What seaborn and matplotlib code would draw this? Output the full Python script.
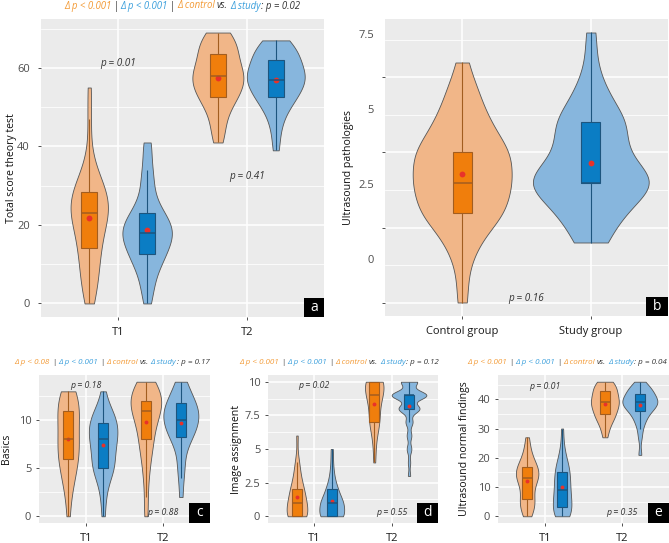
import numpy as np
import pandas as pd
import matplotlib
matplotlib.use("Agg")
import matplotlib.pyplot as plt
import matplotlib.transforms as mtransforms
from matplotlib.patches import Rectangle
import seaborn as sns

plt.rcParams['font.family'] = ['Open Sans', 'DejaVu Sans']

# ---------------- data ----------------
times = ['T1', 'T2']
groups = ['Control', 'Study']
b_groups = ['Control group', 'Study group']

# (a) total score theory test
theory_ctrl_t1 = [0, 2, 4, 6, 7, 9, 10, 12, 14, 14, 15, 17, 18, 19, 20, 21, 22, 23, 23, 24,
                  24, 25, 25, 26, 27, 28, 29, 29, 30, 31, 32, 34, 38, 47, 55]
theory_study_t1 = [0, 3, 5, 7, 9, 10, 11, 12, 12, 13, 14, 15, 15, 16, 17, 17, 18, 18, 18, 19,
                   19, 20, 21, 21, 22, 23, 23, 24, 26, 28, 30, 33, 34, 39, 41]
theory_ctrl_t2 = [41, 43, 45, 47, 49, 50, 52, 52, 52, 53, 54, 55, 55, 56, 56, 57, 57, 58, 58, 59,
                  59, 60, 60, 61, 62, 63, 64, 64, 65, 66, 66, 67, 68, 69, 69]
theory_study_t2 = [39, 43, 46, 48, 49, 51, 52, 52, 52, 53, 54, 55, 55, 56, 56, 57, 57, 57, 58, 58,
                   59, 59, 60, 60, 61, 62, 62, 63, 63, 64, 65, 65, 66, 67, 67]

# (b) ultrasound pathologies: counts per score 0..9
patho_levels = [0, 1, 2, 3, 4, 5, 6, 7, 8, 9]
patho_ctrl_counts = [1, 1, 3, 8, 9, 9, 5, 3, 1, 0]
patho_study_counts = [0, 0, 3, 6, 13, 6, 7, 3, 1, 1]

# (c) basics: counts per score 0..14
basics_levels = list(range(15))
basics_ctrl_t1 = [1, 0, 1, 1, 2, 2, 3, 3, 3, 2, 3, 3, 3, 3, 0]
basics_study_t1 = [1, 0, 1, 1, 1, 5, 2, 3, 4, 4, 4, 3, 0, 1, 0]
basics_ctrl_t2 = [1, 0, 1, 0, 1, 1, 1, 2, 2, 2, 3, 4, 5, 4, 3]
basics_study_t2 = [0, 0, 1, 0, 1, 1, 1, 1, 3, 4, 5, 5, 4, 2, 2]

# (d) image assignment: counts per score 0..10
image_levels = list(range(11))
image_ctrl_t1 = [10, 8, 6, 3, 2, 0, 1, 0, 0, 0, 0]
image_study_t1 = [11, 10, 5, 2, 1, 1, 0, 0, 0, 0, 0]
image_ctrl_t2 = [0, 0, 0, 0, 1, 1, 2, 5, 4, 7, 10]
image_study_t2 = [0, 0, 0, 1, 1, 2, 2, 3, 9, 15, 7]

# (e) ultrasound normal findings
normal_ctrl_t1 = [0, 1, 2, 3, 4, 5, 5, 6, 6, 8, 10, 11, 12, 13, 13, 13, 14, 14, 15, 15,
                  16, 16, 17, 17, 18, 19, 20, 22, 24, 27]
normal_study_t1 = [0, 0, 0, 1, 1, 2, 2, 3, 4, 5, 5, 6, 7, 8, 9, 9, 10, 11, 12, 13,
                   14, 15, 15, 16, 17, 18, 19, 21, 24, 30]
normal_ctrl_t2 = [27, 29, 31, 32, 33, 34, 34, 35, 35, 36, 37, 37, 38, 38, 39, 39, 39, 40, 40, 41,
                  41, 42, 43, 43, 44, 44, 45, 45, 46, 46]
normal_study_t2 = [21, 27, 30, 32, 33, 34, 35, 36, 36, 37, 37, 38, 38, 38, 39, 39, 39, 40, 40, 40,
                   41, 41, 42, 42, 43, 43, 44, 44, 45, 46]

# title p-values: (control change, study change, control vs study)
title_a = ('Δ p < 0.001', 'Δ p < 0.001', 'p = 0.02')
title_c = ('Δ p < 0.08', 'Δ p < 0.001', 'p = 0.17')
title_d = ('Δ p < 0.001', 'Δ p < 0.001', 'p = 0.12')
title_e = ('Δ p < 0.001', 'Δ p < 0.001', 'p = 0.04')

# in-panel p-values: (x category index, y value, text)
pvals_a = [(0, 61, 'p = 0.01'), (1, 32.3, 'p = 0.41')]
pvals_b = [(0.5, 0.15, 'p = 0.16')]
pvals_c = [(0, 13.6, 'p = 0.18'), (1, 0.4, 'p = 0.88')]
pvals_d = [(0, 9.7, 'p = 0.02'), (1, 0.3, 'p = 0.55')]
pvals_e = [(0, 44.4, 'p = 0.01'), (1, 1.4, 'p = 0.35')]

# ---------------- colours ----------------
BG = '#EBEBEB'
VIOLIN = ['#F1B688', '#87B6DD']
BOX = ['#F07E0C', '#0B7DC4']
EDGE = ['#A25D20', '#1D557E']
RED = '#E8322A'
ORANGE_TXT = '#F39A35'
BLUE_TXT = '#3A9FDC'
DARK = '#333333'

W, H = 669, 543
fig = plt.figure(figsize=(W / 100, H / 100), dpi=100)


def add_ax(l, t, r, b):
    return fig.add_axes([l / W, 1 - b / H, (r - l) / W, (b - t) / H])


def long_df(items, xcol):
    rows = []
    for x, g, vals in items:
        rows += [(x, g, float(v)) for v in vals]
    return pd.DataFrame(rows, columns=[xcol, 'group', 'value'])


def nrd0(kde):
    # R's bw.nrd0 (ggplot2 default), expressed as a factor of the sd
    x = kde.dataset[0]
    sd = np.std(x, ddof=1)
    q1, q3 = np.percentile(x, [25, 75])
    lo = min(sd, (q3 - q1) / 1.34)
    if lo == 0:
        lo = sd if sd > 0 else 1.0
    return 0.9 * lo * len(x) ** -0.2 / sd


def draw_violins(ax, df, xcol, order, hue_order, dodge, box_w, gap, msize):
    sns.violinplot(data=df, x=xcol, y='value', hue='group', order=order, hue_order=hue_order,
                   palette=VIOLIN, saturation=1, cut=0, inner=None, width=0.9, dodge=dodge,
                   density_norm='area', common_norm=True, bw_method=nrd0,
                   linewidth=0.6, linecolor='#555555', legend=False, ax=ax)
    n_lines, n_patches = len(ax.lines), len(ax.patches)
    sns.boxplot(data=df, x=xcol, y='value', hue='group', order=order, hue_order=hue_order,
                palette=BOX, saturation=1, width=box_w, gap=gap, dodge=dodge, showfliers=False,
                linewidth=0.8, legend=False, ax=ax, capprops={'visible': False})

    def hue_idx(xc):
        if dodge:
            return 0 if xc - round(xc) < 0 else 1
        return int(round(xc))

    for p in ax.patches[n_patches:]:
        xc = p.get_path().vertices[:, 0].mean()
        p.set_edgecolor(EDGE[hue_idx(xc)])
    for ln in ax.lines[n_lines:]:
        xs = np.asarray(ln.get_xdata(), float)
        ys = np.asarray(ln.get_ydata(), float)
        ln.set_color(EDGE[hue_idx(xs.mean())])
        if len(ys) == 2 and ys[0] == ys[1]:
            ln.set_linewidth(1.1)
    sns.pointplot(data=df, x=xcol, y='value', hue='group', order=order, hue_order=hue_order,
                  palette=[RED, RED], estimator='mean', errorbar=None,
                  dodge=0.45 if dodge else False, linestyle='none', marker='o',
                  markersize=msize, markeredgewidth=0, legend=False, ax=ax)


def style_axis(ax, ylim, major, labels, minor, ylabel, label_x, pad):
    ax.set_facecolor(BG)
    for s in ax.spines.values():
        s.set_visible(False)
    ax.set_xlim(-0.6, 1.6)
    ax.set_ylim(*ylim)
    ax.set_yticks(major)
    ax.set_yticklabels(labels)
    ax.set_yticks(minor, minor=True)
    ax.grid(which='major', color='white', linewidth=1.1)
    ax.grid(which='minor', axis='y', color='white', linewidth=0.55)
    ax.set_axisbelow(True)
    ax.tick_params(which='major', length=2.5, width=0.6, color=DARK, labelcolor='#4D4D4D',
                   labelsize=8)
    ax.tick_params(axis='y', which='major', pad=pad)
    ax.tick_params(axis='x', which='major', pad=4.5, labelcolor='#1A1A1A', labelsize=8)
    ax.tick_params(which='minor', length=0)
    ax.set_xlabel('')
    ax.set_ylabel(ylabel, fontsize=7.6, color='#111111', va='center')
    ax.yaxis.set_label_coords(label_x, 0.5)


def panel_tag(ax, letter, wpx, hpx):
    bb = ax.get_position()
    fw = wpx / (bb.width * W)
    fh = hpx / (bb.height * H)
    ax.add_patch(Rectangle((1 - fw, 0), fw, fh, transform=ax.transAxes, facecolor='black',
                           edgecolor='none', zorder=10, clip_on=False))
    ax.text(1 - fw / 2, fh / 2, letter, transform=ax.transAxes, color='white', ha='center',
            va='center', fontsize=10, zorder=11)


def p_notes(ax, notes, size):
    for x, y, s in notes:
        ax.text(x, y, s, style='italic', ha='center', va='center', fontsize=size, color=DARK)


def delta_title(ttl, center_px, y_px, size, right_px=None):
    ctrl_p, study_p, diff_p = ttl
    parts = [(ctrl_p, ORANGE_TXT, 'italic', 0), ('|', DARK, 'normal', 2),
             (study_p, BLUE_TXT, 'italic', 2), ('|', DARK, 'normal', 2),
             ('Δ control', ORANGE_TXT, 'italic', 2), ('vs.', DARK, 'italic', 2),
             ('Δ study', BLUE_TXT, 'italic', 2), (': ' + diff_p, DARK, 'italic', 0.5)]
    renderer = fig.canvas.get_renderer()
    texts, widths = [], []
    for s, c, st, g in parts:
        t = fig.text(0, 1 - y_px / H, s, color=c, style=st, fontsize=size, ha='left', va='center')
        texts.append(t)
        widths.append(t.get_window_extent(renderer).width)
    total = sum(widths) + sum(p[3] for p in parts)
    x = center_px - total / 2
    if right_px is not None:
        x = min(x, right_px - total)
    for t, w, p in zip(texts, widths, parts):
        x += p[3]
        t.set_x(x / W)
        x += w


# ---------------- panel a ----------------
ax_a = add_ax(41, 19, 324, 317)
df_a = long_df([('T1', 'Control', theory_ctrl_t1), ('T1', 'Study', theory_study_t1),
                ('T2', 'Control', theory_ctrl_t2), ('T2', 'Study', theory_study_t2)], 'time')
draw_violins(ax_a, df_a, 'time', times, groups, True, 0.9, 0.72, 4.2)
style_axis(ax_a, (-3.45, 72.45), [0, 20, 40, 60], ['0', '20', '40', '60'], [10, 30, 50, 70],
           'Total score theory test', (12 - 41) / 283, 5.5)
p_notes(ax_a, pvals_a, 7.2)
panel_tag(ax_a, 'a', 20, 19)
delta_title(title_a, 182, 6, 6.9)

# ---------------- panel b ----------------
ax_b = add_ax(385, 19, 668, 316)
patho_rows = [('Control group', 'Control group', np.repeat(patho_levels, patho_ctrl_counts)),
              ('Study group', 'Study group', np.repeat(patho_levels, patho_study_counts))]
df_b = long_df(patho_rows, 'grp')
draw_violins(ax_b, df_b, 'grp', b_groups, b_groups, False, 0.15, 0, 4.2)
style_axis(ax_b, (-0.45, 9.45), [0, 2.5, 5, 7.5], ['0', '2.5', '5', '7.5'],
           [1.25, 3.75, 6.25, 8.75], 'Ultrasound pathologies', (348 - 385) / 283, 5.5)
shift = mtransforms.ScaledTranslation(0, 0.435, fig.dpi_scale_trans)
for lab in ax_b.get_yticklabels():
    lab.set_transform(lab.get_transform() + shift)
p_notes(ax_b, pvals_b, 7.2)
panel_tag(ax_b, 'b', 22, 19)

# ---------------- panel c ----------------
ax_c = add_ax(39, 375, 210, 523)
df_c = long_df([('T1', 'Control', np.repeat(basics_levels, basics_ctrl_t1)),
                ('T1', 'Study', np.repeat(basics_levels, basics_study_t1)),
                ('T2', 'Control', np.repeat(basics_levels, basics_ctrl_t2)),
                ('T2', 'Study', np.repeat(basics_levels, basics_study_t2))], 'time')
draw_violins(ax_c, df_c, 'time', times, groups, True, 0.9, 0.7, 2.8)
style_axis(ax_c, (-0.7, 14.7), [0, 5, 10], ['0', '5', '10'], [2.5, 7.5, 12.5],
           'Basics', (6 - 39) / 171, 3)
p_notes(ax_c, pvals_c, 6.3)
panel_tag(ax_c, 'c', 21, 20)
delta_title(title_c, 112, 362, 5.8)

# ---------------- panel d ----------------
ax_d = add_ax(268, 375, 438, 523)
df_d = long_df([('T1', 'Control', np.repeat(image_levels, image_ctrl_t1)),
                ('T1', 'Study', np.repeat(image_levels, image_study_t1)),
                ('T2', 'Control', np.repeat(image_levels, image_ctrl_t2)),
                ('T2', 'Study', np.repeat(image_levels, image_study_t2))], 'time')
draw_violins(ax_d, df_d, 'time', times, groups, True, 0.9, 0.7, 2.8)
style_axis(ax_d, (-0.5, 10.5), [0, 2.5, 5, 7.5, 10], ['0', '2.5', '5', '7.5', '10'],
           [1.25, 3.75, 6.25, 8.75], 'Image assignment', (236 - 268) / 170, 3)
p_notes(ax_d, pvals_d, 6.3)
panel_tag(ax_d, 'd', 21, 20)
delta_title(title_d, 339, 362, 5.8)

# ---------------- panel e ----------------
ax_e = add_ax(498, 375, 669, 523)
df_e = long_df([('T1', 'Control', normal_ctrl_t1), ('T1', 'Study', normal_study_t1),
                ('T2', 'Control', normal_ctrl_t2), ('T2', 'Study', normal_study_t2)], 'time')
draw_violins(ax_e, df_e, 'time', times, groups, True, 0.9, 0.7, 2.8)
style_axis(ax_e, (-2.3, 48.3), [0, 10, 20, 30, 40], ['0', '10', '20', '30', '40'],
           [5, 15, 25, 35, 45], 'Ultrasound normal findings', (465 - 498) / 171, 3)
p_notes(ax_e, pvals_e, 6.3)
panel_tag(ax_e, 'e', 21, 20)
delta_title(title_e, 569, 362, 5.8, right_px=667)

fig.savefig('out.png', dpi=100, facecolor='white')
